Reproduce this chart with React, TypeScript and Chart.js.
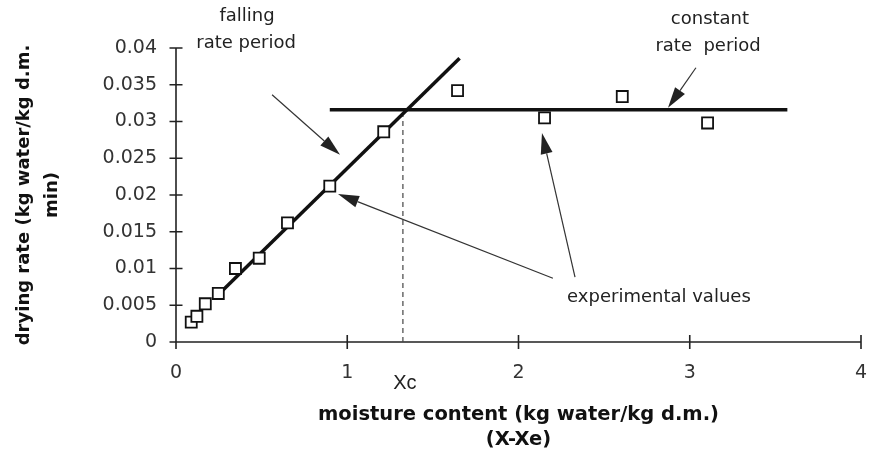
import React, { useEffect, useRef } from 'react';
import { Chart, registerables } from 'chart.js';

Chart.register(...registerables);

// ---- data ----
const moistureX = [0.089, 0.122, 0.171, 0.247, 0.347, 0.486, 0.651, 0.898, 1.213, 1.644, 2.152, 2.606, 3.104];
const dryingRate = [0.0027, 0.0035, 0.0052, 0.0066, 0.0100, 0.0114, 0.0162, 0.0212, 0.0286, 0.0342, 0.0305, 0.0334, 0.0298];
const fallingLineX = [0.227, 1.656];
const fallingLineY = [0.0060, 0.0386];
const constantLineX = [0.898, 3.57];
const constantRate = 0.0316;
const criticalX = 1.325;
const xTicks = [0, 1, 2, 3, 4];
const xTickLabels = ['0', '1', '2', '3', '4'];
const yTicks = [0, 0.005, 0.01, 0.015, 0.02, 0.025, 0.03, 0.035, 0.04];
const yTickLabels = ['0', '0.005', '0.01', '0.015', '0.02', '0.025', '0.03', '0.035', '0.04'];
const xTitle = ['moisture content (kg water/kg d.m.)', '(X-Xe)'];
const yTitle = ['drying rate (kg water/kg d.m.', 'min)'];

// ---- annotations (data coordinates) ----
const annotationTexts: { text: string; x: number; y: number }[] = [
  { text: 'falling', x: 0.415, y: 0.0443 },
  { text: 'rate period', x: 0.409, y: 0.0407 },
  { text: 'constant', x: 3.118, y: 0.04386 },
  { text: 'rate  period', x: 3.107, y: 0.04017 },
  { text: 'experimental values', x: 2.82, y: 0.00609 },
];
const annotationArrows: { from: [number, number]; to: [number, number] }[] = [
  { from: [0.561, 0.03364], to: [0.958, 0.02546] },
  { from: [3.036, 0.03731], to: [2.873, 0.03186] },
  { from: [2.201, 0.00868], to: [0.946, 0.02014] },
  { from: [2.33, 0.00882], to: [2.137, 0.02845] },
];

const pts = (xs: number[], ys: number[]) => xs.map((x, i) => ({ x, y: ys[i] }));

const overlay = {
  id: 'overlay',
  beforeDatasetsDraw(chart: any) {
    const { ctx, scales } = chart;
    const xs = scales.x;
    const ys = scales.y;
    const x0 = xs.getPixelForValue(xTicks[0]);
    const x1 = xs.getPixelForValue(xTicks[xTicks.length - 1]);
    const y0 = ys.getPixelForValue(yTicks[0]);
    const y1 = ys.getPixelForValue(yTicks[yTicks.length - 1]);
    ctx.save();
    ctx.strokeStyle = '#222';
    ctx.lineWidth = 1.6;
    ctx.beginPath();
    ctx.moveTo(x0, y0);
    ctx.lineTo(x1, y0);
    ctx.moveTo(x0, y0);
    ctx.lineTo(x0, y1);
    yTicks.forEach((v) => {
      const p = ys.getPixelForValue(v);
      ctx.moveTo(x0 - 6.5, p);
      ctx.lineTo(x0 + 6.5, p);
    });
    xTicks.forEach((v) => {
      const p = xs.getPixelForValue(v);
      ctx.moveTo(p, y0 - 7);
      ctx.lineTo(p, y0 + 7);
    });
    ctx.stroke();
    ctx.restore();
  },
  afterDraw(chart: any) {
    const { ctx, scales } = chart;
    const xs = scales.x;
    const ys = scales.y;
    ctx.save();
    // arrows
    ctx.strokeStyle = '#333';
    ctx.fillStyle = '#222';
    ctx.lineWidth = 1.2;
    annotationArrows.forEach((a) => {
      const ax = xs.getPixelForValue(a.from[0]);
      const ay = ys.getPixelForValue(a.from[1]);
      const bx = xs.getPixelForValue(a.to[0]);
      const by = ys.getPixelForValue(a.to[1]);
      const ang = Math.atan2(by - ay, bx - ax);
      const L = 21;
      const W = 6;
      const cx = bx - L * Math.cos(ang);
      const cy = by - L * Math.sin(ang);
      ctx.beginPath();
      ctx.moveTo(ax, ay);
      ctx.lineTo(cx, cy);
      ctx.stroke();
      ctx.beginPath();
      ctx.moveTo(bx, by);
      ctx.lineTo(cx + W * Math.sin(ang), cy - W * Math.cos(ang));
      ctx.lineTo(cx - W * Math.sin(ang), cy + W * Math.cos(ang));
      ctx.closePath();
      ctx.fill();
    });
    // texts
    ctx.fillStyle = '#222';
    ctx.textAlign = 'center';
    ctx.textBaseline = 'middle';
    ctx.font = '18px "DejaVu Sans"';
    annotationTexts.forEach((t) => {
      ctx.fillText(t.text, xs.getPixelForValue(t.x), ys.getPixelForValue(t.y));
    });
    ctx.font = '20px "Liberation Sans"';
    ctx.fillText('Xc', xs.getPixelForValue(criticalX) + 2, ys.getPixelForValue(0) + 41);
    ctx.restore();
  },
};

export default function App() {
  const ref = useRef<HTMLCanvasElement>(null);
  useEffect(() => {
    const canvas = ref.current;
    if (!canvas) return;
    const chart = new Chart(canvas, {
      type: 'scatter',
      data: {
        datasets: [
          {
            label: 'experimental values',
            data: pts(moistureX, dryingRate),
            pointStyle: 'rect',
            pointRadius: 7.8,
            pointBorderWidth: 1.8,
            pointBorderColor: '#111',
            pointBackgroundColor: '#fff',
            showLine: false,
          },
          {
            label: 'falling rate period',
            data: pts(fallingLineX, fallingLineY),
            showLine: true,
            borderColor: '#111',
            borderWidth: 3.5,
            pointRadius: 0,
          },
          {
            label: 'constant rate period',
            data: pts(constantLineX, [constantRate, constantRate]),
            showLine: true,
            borderColor: '#111',
            borderWidth: 3.5,
            pointRadius: 0,
          },
          {
            label: 'Xc',
            data: pts([criticalX, criticalX], [0, constantRate]),
            showLine: true,
            borderColor: '#444',
            borderWidth: 1.2,
            borderDash: [5, 4],
            pointRadius: 0,
          },
        ],
      } as any,
      options: {
        animation: false,
        responsive: false,
        events: [],
        layout: { autoPadding: false, padding: { top: 48, right: 8, left: 0, bottom: 0 } },
        plugins: { legend: { display: false }, tooltip: { enabled: false } },
        scales: {
          x: {
            type: 'linear',
            min: 0,
            max: 4,
            grid: { display: false, drawTicks: false },
            border: { display: false },
            afterBuildTicks: (s: any) => {
              s.ticks = xTicks.map((v) => ({ value: v }));
            },
            afterFit: (s: any) => {
              s.height = 114;
              s.paddingLeft = 0;
              s.paddingRight = 0;
            },
            ticks: {
              padding: 20,
              color: '#333',
              font: { family: 'DejaVu Sans', size: 19 },
              maxRotation: 0,
              autoSkip: false,
              callback: (_v: any, i: number) => xTickLabels[i],
            },
            title: {
              display: true,
              text: xTitle,
              color: '#111',
              font: { family: 'DejaVu Sans', size: 19.5, weight: 'bold', lineHeight: 1.28 },
              padding: { top: 0, bottom: 4 },
            },
          },
          y: {
            type: 'linear',
            min: 0,
            max: 0.04,
            grid: { display: false, drawTicks: false },
            border: { display: false },
            afterBuildTicks: (s: any) => {
              s.ticks = yTicks.map((v) => ({ value: v }));
            },
            afterFit: (s: any) => {
              s.width = 176;
              s.paddingTop = 0;
              s.paddingBottom = 0;
            },
            ticks: {
              padding: 19,
              color: '#333',
              font: { family: 'DejaVu Sans', size: 19 },
              autoSkip: false,
              callback: (_v: any, i: number) => yTickLabels[i],
            },
            title: {
              display: true,
              text: yTitle,
              color: '#111',
              font: { family: 'DejaVu Sans', size: 18, weight: 'bold', lineHeight: 1.55 },
              padding: { top: 10, bottom: 0 },
            },
          },
        },
      } as any,
      plugins: [overlay],
    });
    return () => chart.destroy();
  }, []);
  return (
    <div style={{ position: 'fixed', left: 0, top: 0, width: 869, height: 456, background: '#fff' }}>
      <canvas ref={ref} width={869} height={456} style={{ width: 869, height: 456, display: 'block' }} />
    </div>
  );
}
